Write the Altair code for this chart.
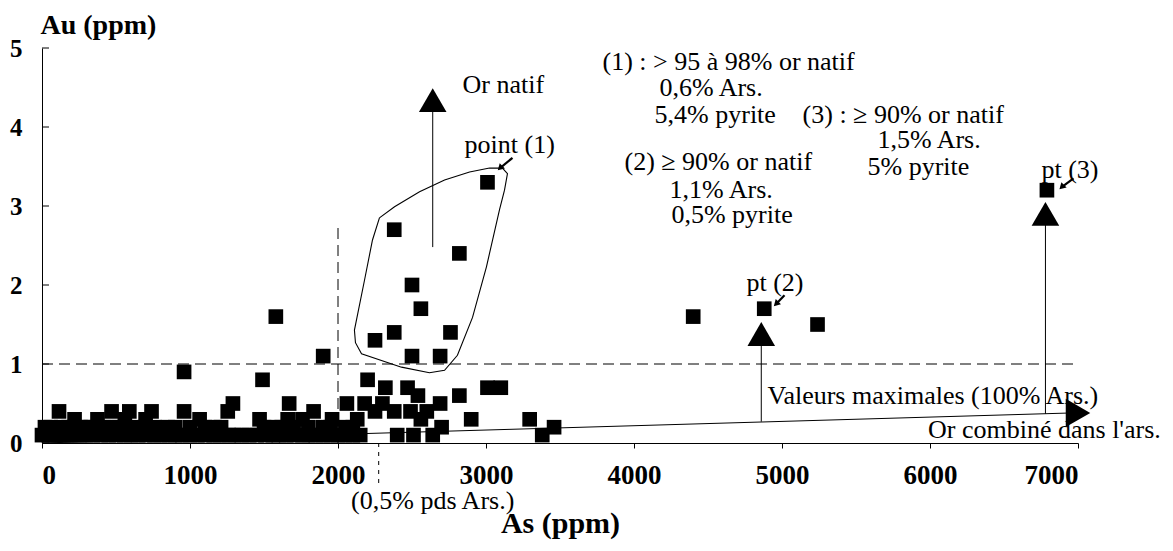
import altair as alt
import pandas as pd

FONT = "Liberation Serif"

# ---------------- data ----------------
x_ticks = [0, 1000, 2000, 3000, 4000, 5000, 6000, 7000]
y_ticks = [0, 1, 2, 3, 4, 5]

# samples: Au level -> list of As values
au_levels = [0.1, 0.2, 0.3, 0.4, 0.5, 0.6, 0.7, 0.8, 0.9, 1.1, 1.3, 1.4, 1.5, 1.6, 1.7, 2.0, 2.4, 2.7, 3.2, 3.3]
as_at_level = [
    [0, 45, 95, 150, 200, 250, 300, 345, 400, 450, 500, 555, 600, 650, 700, 760, 800, 860, 900, 950,
     1000, 1050, 1100, 1160, 1200, 1260, 1300, 1350, 1400, 1450, 1510, 1560, 1600, 1650, 1700, 1760,
     1800, 1850, 1900, 1950, 2000, 2050, 2100, 2150, 2400, 2510, 2640, 3380],
    [20, 60, 130, 180, 260, 300, 330, 420, 470, 520, 560, 640, 700, 760, 850, 900, 1000, 1100, 1165,
     1210, 1500, 1565, 1620, 1700, 1800, 1900, 1950, 2050, 2100, 2700, 3460],
    [220, 375, 560, 700, 1065, 1470, 1660, 1760, 1960, 2130, 2560, 2900, 3295],
    [115, 470, 590, 740, 960, 1255, 1835, 2250, 2380, 2490, 2600],
    [1290, 1670, 2060, 2180, 2300, 2690],
    [2540, 2820],
    [2320, 2470, 3010, 3100],
    [1490, 2200],
    [960],
    [1900, 2500, 2690],
    [2250],
    [2380, 2760],
    [5240],
    [1580, 4400],
    [2560, 4880],
    [2500],
    [2820],
    [2380],
    [6790],
    [3010],
]

# "Or natif" / maximal-value triangles
tri_as = [2640, 4860, 6780]
tri_au = [4.34, 1.38, 2.90]

# arrow stems
stem_as = [2640, 4860, 6780, 0]
stem_au = [2.48, 0.27, 0.37, 0.0]
stem_as2 = [2640, 4860, 6780, 6950]
stem_au2 = [4.20, 1.30, 2.80, 0.38]

# "Or combine" arrow head
head_as = [7000]
head_au = [0.38]

# small pointer arrows (to point (1), pt (2), pt (3))
ptr_as = [3179, 5017, 6970]
ptr_au = [3.61, 1.87, 3.35]
ptr_as2 = [3095, 4960, 6890]
ptr_au2 = [3.48, 1.76, 3.24]

# dashed reference lines
dash_as = [0, 2000]
dash_au = [1.0, 0.0]
dash_as2 = [7000, 2000]
dash_au2 = [1.0, 2.75]
dash2_as = [2275]
dash2_au = [0.0]
dash2_as2 = [2275]
dash2_au2 = [-0.55]

# outline around group (1)
poly_as = [2280, 2382, 2551, 2720, 2889, 3024, 3111, 3145, 3125, 3091, 3003, 2909, 2807, 2720,
           2618, 2429, 2159, 2118, 2111, 2179, 2233, 2280]
poly_au = [2.85, 2.99, 3.18, 3.33, 3.43, 3.48, 3.48, 3.41, 3.20, 2.95, 2.23, 1.59, 1.11, 0.92,
           0.89, 0.96, 1.13, 1.27, 1.43, 2.06, 2.57, 2.85]

# annotations
lab_left = ["Or natif", "point (1)", "(1) : > 95 à 98% or natif", "0,6% Ars.", "5,4% pyrite",
            "(3) : ≥ 90% or natif", "1,5% Ars.", "5% pyrite", "pt (3)",
            "(2) ≥ 90% or natif", "1,1% Ars.", "0,5% pyrite", "pt (2)",
            "Valeurs maximales (100% Ars.)"]
lab_left_as = [2841, 2855, 3787, 4172, 4139, 5139, 5645, 5578, 6753, 3936, 4240, 4253, 4760, 4902]
lab_left_au = [4.53, 3.77, 4.82, 4.49, 4.15, 4.15, 3.84, 3.49, 3.46, 3.56, 3.20, 2.89, 2.02, 0.60]

lab_right = ["Or combiné dans l'ars."]
lab_right_as = [7560]
lab_right_au = [0.16]

lab_center = ["(0,5% pds Ars.)"]
lab_center_as = [2640]
lab_center_au = [-0.74]

# ---------------- tables ----------------
pts = pd.DataFrame(
    [(a, lv) for lv, lst in zip(au_levels, as_at_level) for a in lst], columns=["As", "Au"]
)
tri = pd.DataFrame({"As": tri_as, "Au": tri_au})
stems = pd.DataFrame({"As": stem_as, "Au": stem_au, "As2": stem_as2, "Au2": stem_au2})
head = pd.DataFrame({"As": head_as, "Au": head_au})
ptr = pd.DataFrame({"As": ptr_as, "Au": ptr_au, "As2": ptr_as2, "Au2": ptr_au2})
ptr_heads = pd.DataFrame({"As": ptr_as2, "Au": ptr_au2})
dash = pd.DataFrame({"As": dash_as, "Au": dash_au, "As2": dash_as2, "Au2": dash_au2})
dash2 = pd.DataFrame({"As": dash2_as, "Au": dash2_au, "As2": dash2_as2, "Au2": dash2_au2})
poly = pd.DataFrame({"As": poly_as, "Au": poly_au, "i": list(range(len(poly_as)))})
txt_l = pd.DataFrame({"As": lab_left_as, "Au": lab_left_au, "t": lab_left})
txt_r = pd.DataFrame({"As": lab_right_as, "Au": lab_right_au, "t": lab_right})
txt_c = pd.DataFrame({"As": lab_center_as, "Au": lab_center_au, "t": lab_center})
yt = pd.DataFrame({"Au": y_ticks})

# ---------------- encodings ----------------
XS = alt.Scale(domain=[0, 7000], nice=False, zero=False)
YS = alt.Scale(domain=[0, 5], nice=False, zero=False)
XA = alt.Axis(values=x_ticks, format="d", title="As (ppm)", grid=False,
              tickSize=5, labelPadding=14, labelFontSize=27,
              titleFontSize=30, titleY=89, titleBaseline="alphabetic")
YA = alt.Axis(values=y_ticks, format="d", title="Au (ppm)", grid=False,
              ticks=False, labelPadding=20, labelFontSize=25,
              titleFontSize=28, titleAngle=0, titleAlign="left", titleBaseline="alphabetic",
              titleX=-2, titleY=-15)


def X(f="As"):
    return alt.X(f"{f}:Q", scale=XS, axis=XA)


def Y(f="Au"):
    return alt.Y(f"{f}:Q", scale=YS, axis=YA)


squares = alt.Chart(pts).mark_square(size=215, color="black", opacity=1).encode(x=X(), y=Y())

triangles = alt.Chart(tri).mark_point(shape="triangle-up", size=760, filled=True,
                                      color="black", opacity=1).encode(x=X(), y=Y())
head_r = alt.Chart(head).mark_point(shape="triangle-right", size=800, filled=True,
                                    color="black", opacity=1).encode(x=X(), y=Y())
stem_rules = alt.Chart(stems).mark_rule(color="black", strokeWidth=1).encode(
    x=X(), y=Y(), x2=alt.X2("As2:Q"), y2=alt.Y2("Au2:Q"))
ptr_rules = alt.Chart(ptr).mark_rule(color="black", strokeWidth=2.2).encode(
    x=X(), y=Y(), x2=alt.X2("As2:Q"), y2=alt.Y2("Au2:Q"))
ptr_tips = alt.Chart(ptr_heads).mark_point(shape="triangle-up", size=55, angle=225, filled=True,
                                           color="black", opacity=1).encode(x=X(), y=Y())
dash_rules = alt.Chart(dash).mark_rule(color="black", strokeWidth=1, strokeDash=[11, 6]).encode(
    x=X(), y=Y(), x2=alt.X2("As2:Q"), y2=alt.Y2("Au2:Q"))
dash2_rules = alt.Chart(dash2).mark_rule(color="black", strokeWidth=1, strokeDash=[4, 5]).encode(
    x=X(), y=Y(), x2=alt.X2("As2:Q"), y2=alt.Y2("Au2:Q"))
outline = alt.Chart(poly).mark_line(color="black", strokeWidth=1.1).encode(
    x=X(), y=Y(), order="i:Q")
yticks = alt.Chart(yt).mark_rule(color="black", strokeWidth=1).encode(
    x=alt.value(0), x2=alt.value(7), y=Y())

TXT = dict(font=FONT, fontSize=26, color="black", baseline="middle")
t_left = alt.Chart(txt_l).mark_text(align="left", **TXT).encode(x=X(), y=Y(), text="t:N")
t_right = alt.Chart(txt_r).mark_text(align="right", **TXT).encode(x=X(), y=Y(), text="t:N")
t_center = alt.Chart(txt_c).mark_text(align="center", **TXT).encode(x=X(), y=Y(), text="t:N")

chart = alt.layer(
    dash_rules, dash2_rules, stem_rules, outline, squares, triangles, head_r,
    ptr_rules, ptr_tips, yticks, t_left, t_right, t_center
).properties(
    width=1036, height=395,
    autosize=alt.AutoSizeParams(type="none"),
    padding={"left": 34, "top": 40, "right": 87, "bottom": 100},
).configure_view(stroke=None).configure_axis(
    domainColor="black", tickColor="black", labelColor="black", titleColor="black",
    labelFont=FONT, titleFont=FONT, labelFontWeight="bold", titleFontWeight="bold",
    domainWidth=1,
)

chart.save("out.html", embed_options={"renderer": "svg", "actions": False})
